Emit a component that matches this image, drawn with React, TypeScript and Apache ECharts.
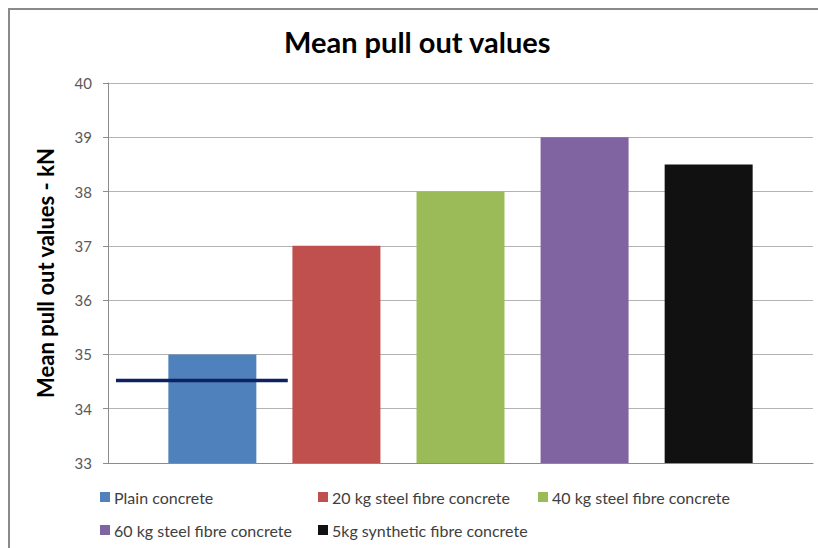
import React, { useEffect, useRef } from "react";
import * as echarts from "echarts";

const seriesNames = [
  "Plain concrete",
  "20 kg steel fibre concrete",
  "40 kg steel fibre concrete",
  "60 kg steel fibre concrete",
  "5kg synthetic fibre concrete",
];
const seriesValues = [35, 37, 38, 39, 38.5];
const seriesColors = ["#4f81bd", "#c0504d", "#9bbb59", "#8064a2", "#111111"];
const categories = [""];
const yTicks = { min: 33, max: 40, interval: 1 };
// reference line (dark navy) drawn across the first bar
const refLineX = [0.0113, 0.255];
const refLineY = [34.52, 34.52];

const FONT = "Lato";

export default function App() {
  const ref = useRef<HTMLDivElement>(null);
  useEffect(() => {
    if (!ref.current) return;
    const chart = echarts.init(ref.current, null, { renderer: "svg" });
    const legendPos = [
      { left: 92, top: 481 },
      { left: 310, top: 481 },
      { left: 530, top: 481 },
      { left: 92, top: 514 },
      { left: 310, top: 514 },
    ];
    const option: any = {
      animation: false,
      backgroundColor: "#ffffff",
      title: {
        text: "Mean pull out values",
        left: 276,
        top: 19,
        padding: 0,
        textStyle: { fontFamily: FONT, fontSize: 29, fontWeight: "bold", color: "#000000" },
      },
      legend: seriesNames.map((n, i) => ({
        data: [n],
        left: legendPos[i].left,
        top: legendPos[i].top,
        padding: 0,
        icon: "rect",
        itemWidth: 10,
        itemHeight: 10,
        itemGap: 0,
        selectedMode: false,
        textStyle: { fontFamily: FONT, fontSize: 16, color: "#404040", padding: [0, 0, 0, -1] },
      })),
      grid: { left: 100, right: 25, top: 75, bottom: 105, containLabel: false },
      xAxis: [
        {
          type: "category",
          data: categories,
          axisLine: { lineStyle: { color: "#8c8c8c", width: 1 } },
          axisTick: { show: false },
          axisLabel: { show: false },
          splitLine: { show: false },
        },
        {
          type: "value",
          min: 0,
          max: 1,
          show: false,
        },
      ],
      yAxis: {
        type: "value",
        min: yTicks.min,
        max: yTicks.max,
        interval: yTicks.interval,
        name: "Mean pull out values - kN",
        nameLocation: "middle",
        nameGap: 52,
        nameTextStyle: { fontFamily: FONT, fontSize: 22, fontWeight: "bold", color: "#000000" },
        axisLine: { show: true, lineStyle: { color: "#8c8c8c", width: 1 } },
        axisTick: { show: true, length: 5, lineStyle: { color: "#8c8c8c" } },
        axisLabel: { fontFamily: FONT, fontSize: 15, color: "#595959", margin: 16 },
        splitLine: { lineStyle: { color: "#b3b3b3", width: 1 } },
      },
      series: [
        ...seriesNames.map((n, i) => ({
          name: n,
          type: "bar",
          data: [seriesValues[i]],
          barWidth: 88,
          barGap: "41%",
          itemStyle: { color: seriesColors[i] },
          xAxisIndex: 0,
        })),
        {
          name: "ref",
          type: "line",
          xAxisIndex: 1,
          data: refLineX.map((x, i) => [x, refLineY[i]]),
          symbol: "none",
          lineStyle: { color: "#0d2260", width: 3.5 },
          z: 5,
          silent: true,
        },
      ],
    };
    chart.setOption(option);
    return () => chart.dispose();
  }, []);
  return (
    <div>
      <div
        ref={ref}
        style={{ position: "fixed", left: 8, top: 8, width: 830, height: 560 }}
      />
      <div
        style={{
          position: "fixed",
          left: 8,
          top: 8,
          width: 830,
          height: 560,
          boxSizing: "border-box",
          borderLeft: "2px solid #8a8a8a",
          borderTop: "2px solid #8a8a8a",
          pointerEvents: "none",
        }}
      />
    </div>
  );
}
